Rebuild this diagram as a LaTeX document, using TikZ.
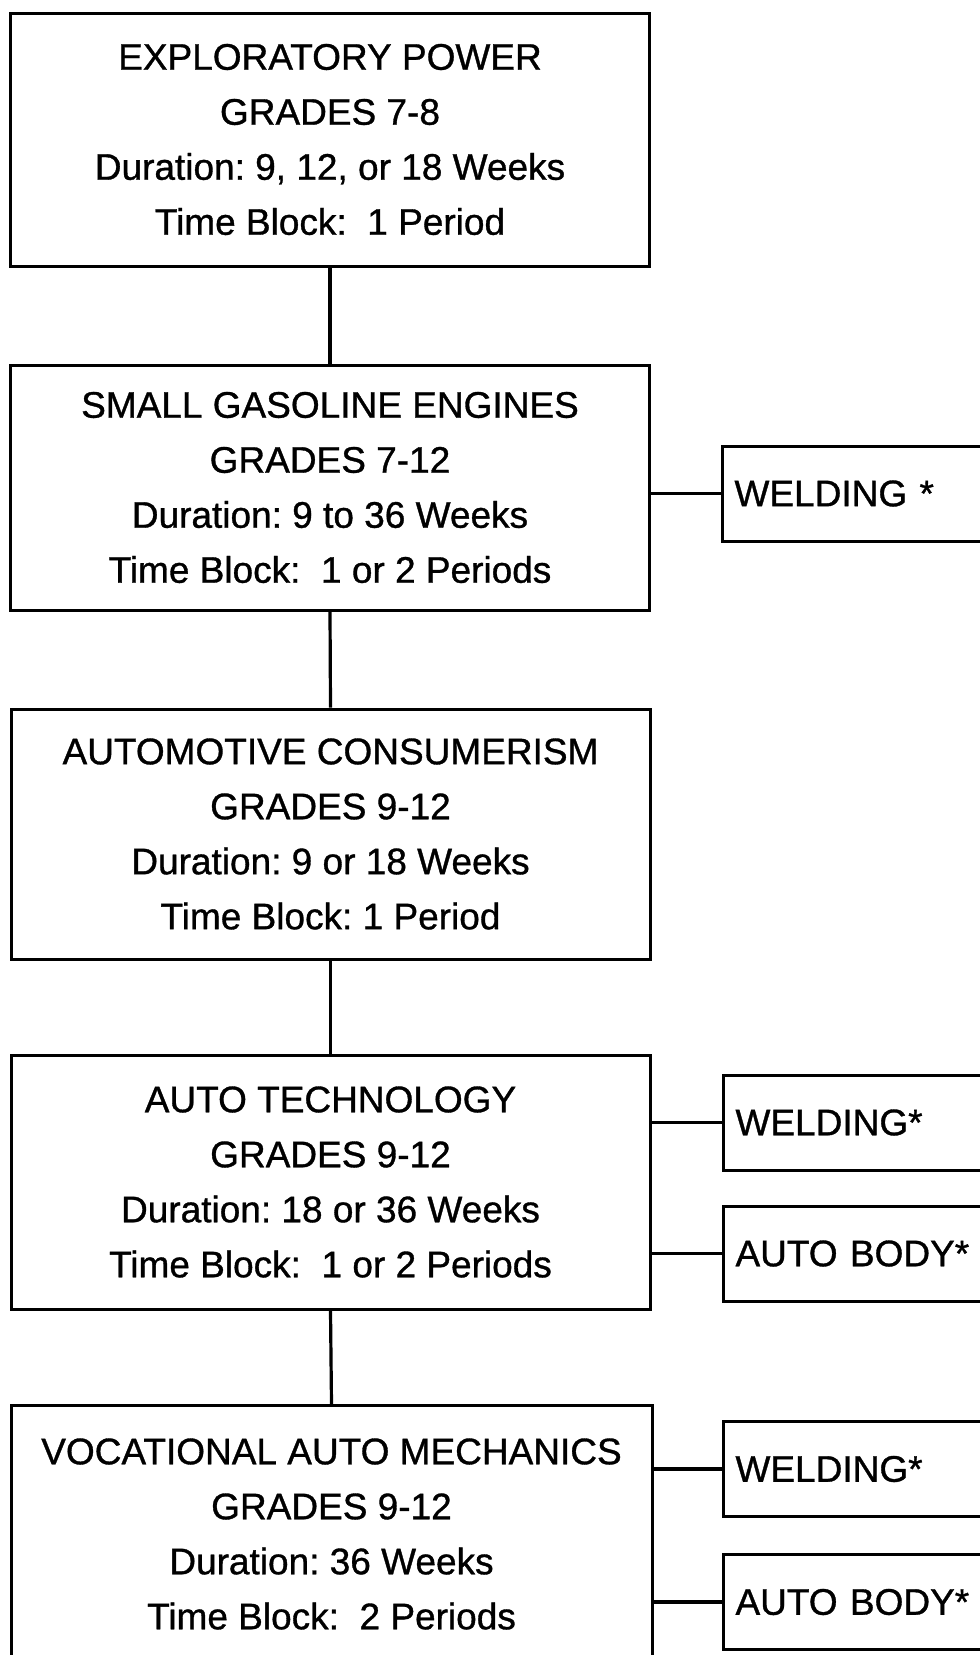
\documentclass[tikz,border=0pt]{standalone}
\usepackage{fontspec}
\setmainfont{Liberation Sans}
\newfontface\medfont{Liberation Sans}[FakeBold=0.9]
\begin{document}
\frenchspacing
\begin{tikzpicture}[x=1pt,y=-1pt,
  bigbox/.style={draw, line width=3pt, minimum width=639pt, inner sep=0pt, align=center,
    font=\medfont\fontsize{37}{55}\selectfont},
  sidebox/.style={draw, line width=3pt, anchor=west, minimum height=95pt, text width=380pt,
    inner xsep=12pt, align=left, font=\medfont\fontsize{37}{43}\selectfont},
  link/.style={line width=3.2pt}]
\useasboundingbox (0,0) rectangle (980,1655);
\fill[white] (0,0) rectangle (980,1655);

\node[bigbox, minimum height=253pt] (b1) at (330,139.5)
  {EXPLORATORY POWER\\GRADES 7-8\\Duration: 9, 12, or 18 Weeks\\Time Block:\ \ 1 Period};
\node[bigbox, minimum height=245pt] (b2) at (330,487.5)
  {SMALL GASOLINE ENGINES\\GRADES 7-12\\Duration: 9 to 36 Weeks\\Time Block:\ \ 1 or 2 Periods};
\node[bigbox, minimum height=250pt] (b3) at (330.5,834)
  {AUTOMOTIVE CONSUMERISM\\GRADES 9-12\\Duration: 9 or 18 Weeks\\Time Block: 1 Period};
\node[bigbox, minimum height=254pt] (b4) at (330.5,1182)
  {AUTO TECHNOLOGY\\GRADES 9-12\\Duration: 18 or 36 Weeks\\Time Block:\ \ 1 or 2 Periods};
\node[bigbox, minimum height=320pt, anchor=north, minimum width=641pt] (b5box) at (331.5,1404) {};
\node[align=center, inner sep=0pt, font=\medfont\fontsize{37}{55}\selectfont] (b5) at (331.5,1534)
  {VOCATIONAL AUTO MECHANICS\\GRADES 9-12\\Duration: 36 Weeks\\Time Block:\ \ 2 Periods};

\node[sidebox] (w1) at (721,493.5) {WELDING *};
\node[sidebox] (w2) at (722,1122.5) {WELDING*};
\node[sidebox] (a1) at (722,1253.5) {AUTO BODY*};
\node[sidebox] (w3) at (722,1469) {WELDING*};
\node[sidebox] (a2) at (722,1602) {AUTO BODY*};

\draw[link] (b1.south) -- (b2.north);
\draw[link] (b2.south) -- (b3.north);
\draw[link] (b3.south) -- (b4.north);
\draw[link] (b4.south) -- (b5box.north);

\draw[link] (w1.west) -- (w1.west -| b2.east);
\draw[link] (w2.west) -- (w2.west -| b4.east);
\draw[link] (a1.west) -- (a1.west -| b4.east);
\draw[link] (w3.west) -- (w3.west -| b5box.east);
\draw[link] (a2.west) -- (a2.west -| b5box.east);
\end{tikzpicture}
\end{document}
